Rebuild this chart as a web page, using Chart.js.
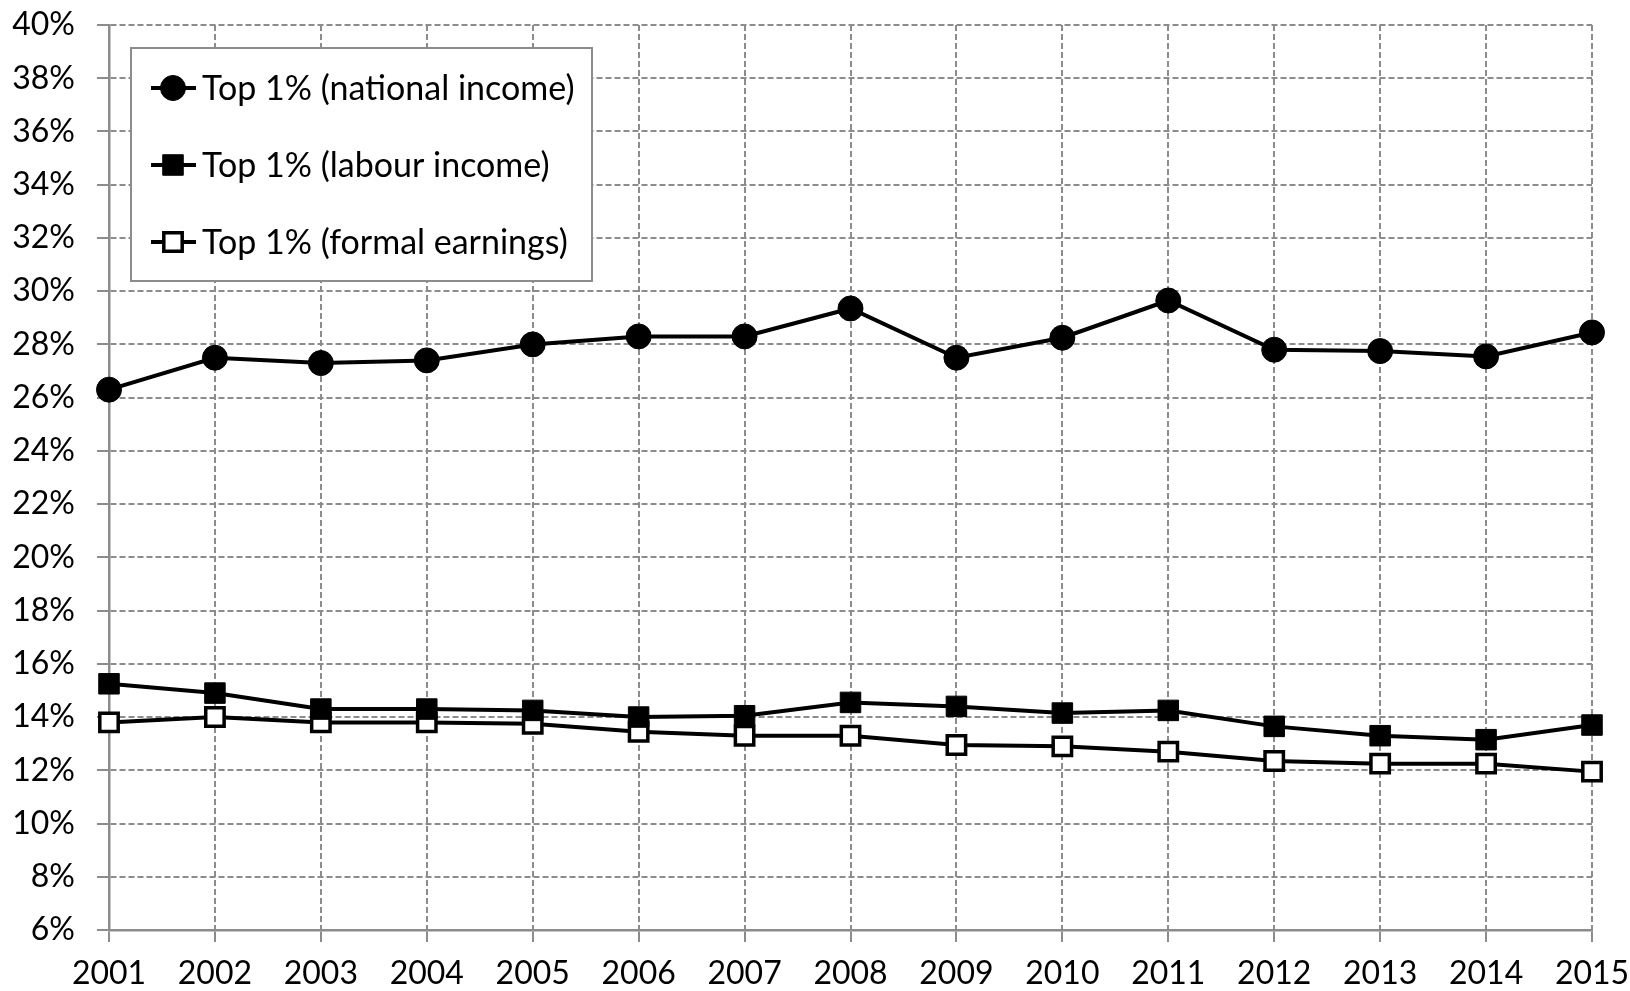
<!DOCTYPE html>
<html>
<head>
<meta charset="utf-8">
<script src="https://cdn.jsdelivr.net/npm/chart.js@4.4.1/dist/chart.umd.min.js"></script>
<style>
  html, body { margin: 0; padding: 0; background: #fff; }
  #wrap { width: 1630px; height: 991px; position: relative; }
</style>
</head>
<body>
<div id="wrap"><canvas id="c"></canvas></div>
<script>
// values (share of income, %)
const years = ["2001", "2002", "2003", "2004", "2005", "2006", "2007", "2008",
  "2009", "2010", "2011", "2012", "2013", "2014", "2015"];
const nationalIncome = [26.3, 27.5, 27.3, 27.4, 28.0, 28.3, 28.3, 29.35, 27.5, 28.25, 29.65, 27.8, 27.75, 27.55, 28.45];
const labourIncome = [15.25, 14.9, 14.3, 14.3, 14.25, 14.0, 14.05, 14.55, 14.4, 14.15, 14.25, 13.65, 13.3, 13.15, 13.7];
const formalEarnings = [13.8, 14.0, 13.8, 13.8, 13.75, 13.45, 13.3, 13.3, 12.95, 12.9, 12.7, 12.35, 12.25, 12.25, 11.95];
const seriesLabels = ["Top 1% (national income)", "Top 1% (labour income)", "Top 1% (formal earnings)"];

const FONT = "Lato, 'Open Sans', sans-serif";
const GRID = "#8c8c8c";

// legend drawn inside the plot, Excel style
const boxLegend = {
  id: "boxLegend",
  afterDraw(chart) {
    const ctx = chart.ctx;
    const x0 = 131, y0 = 48, w = 461, h = 233;
    ctx.save();
    ctx.fillStyle = "#fff";
    ctx.fillRect(x0, y0, w, h);
    ctx.strokeStyle = GRID;
    ctx.lineWidth = 2;
    ctx.strokeRect(x0, y0, w, h);
    ctx.font = "34px " + FONT;
    ctx.textBaseline = "middle";
    chart.data.datasets.forEach((ds, i) => {
      const y = 88 + i * 77;
      ctx.strokeStyle = "#000";
      ctx.lineWidth = 4;
      ctx.beginPath();
      ctx.moveTo(151, y);
      ctx.lineTo(196, y);
      ctx.stroke();
      ctx.fillStyle = ds.pointBackgroundColor;
      ctx.strokeStyle = ds.pointBorderColor;
      ctx.lineWidth = ds.pointBorderWidth;
      Chart.helpers.drawPoint(ctx, {
        pointStyle: ds.pointStyle, rotation: 0,
        radius: ds.pointRadius, borderWidth: ds.pointBorderWidth,
      }, 173, y);
      ctx.fillStyle = "#000";
      ctx.fillText(ds.label, 202, y + 1);
    });
    ctx.restore();
  },
};

new Chart(document.getElementById("c"), {
  type: "line",
  data: {
    labels: years,
    datasets: [
      {
        label: seriesLabels[0],
        data: nationalIncome,
        borderColor: "#000",
        borderWidth: 4,
        pointStyle: "circle",
        pointRadius: 12.5,
        pointBackgroundColor: "#000",
        pointBorderColor: "#000",
        pointBorderWidth: 1,
      },
      {
        label: seriesLabels[1],
        data: labourIncome,
        borderColor: "#000",
        borderWidth: 4,
        pointStyle: "rect",
        pointRadius: 14.5,
        pointBackgroundColor: "#000",
        pointBorderColor: "#000",
        pointBorderWidth: 1,
      },
      {
        label: seriesLabels[2],
        data: formalEarnings,
        borderColor: "#000",
        borderWidth: 4,
        pointStyle: "rect",
        pointRadius: 13,
        pointBackgroundColor: "#fff",
        pointBorderColor: "#000",
        pointBorderWidth: 3.5,
      },
    ],
  },
  options: {
    animation: false,
    responsive: true,
    maintainAspectRatio: false,
    devicePixelRatio: 1,
    layout: { padding: { top: 25, right: 38, bottom: 0, left: 0 } },
    scales: {
      x: {
        offset: false,
        grid: {
          color: GRID,
          lineWidth: 2,
          tickLength: 12,
          tickBorderDash: [],
          drawTicks: true,
        },
        border: { display: true, color: GRID, width: 2.5, dash: [6, 3] },
        ticks: {
          color: "#000",
          font: { family: FONT, size: 32 },
          padding: 12,
          maxRotation: 0,
          autoSkip: false,
        },
        afterFit: (s) => {
          s.height = 61;
          s.paddingLeft = 0;
          s.paddingRight = 0;
        },
      },
      y: {
        min: 6,
        max: 40,
        grid: {
          color: GRID,
          lineWidth: 2,
          tickLength: 12,
          tickBorderDash: [],
        },
        border: { display: true, color: GRID, width: 2.5, dash: [6, 3] },
        ticks: {
          stepSize: 2,
          color: "#000",
          font: { family: FONT, size: 32 },
          padding: 22,
          callback: (v) => v + "%",
        },
        afterFit: (s) => {
          s.width = 109;
          s.paddingTop = 0;
          s.paddingBottom = 0;
        },
      },
    },
    plugins: {
      legend: { display: false },
      tooltip: { enabled: false },
    },
  },
  plugins: [boxLegend],
});
</script>
</body>
</html>
